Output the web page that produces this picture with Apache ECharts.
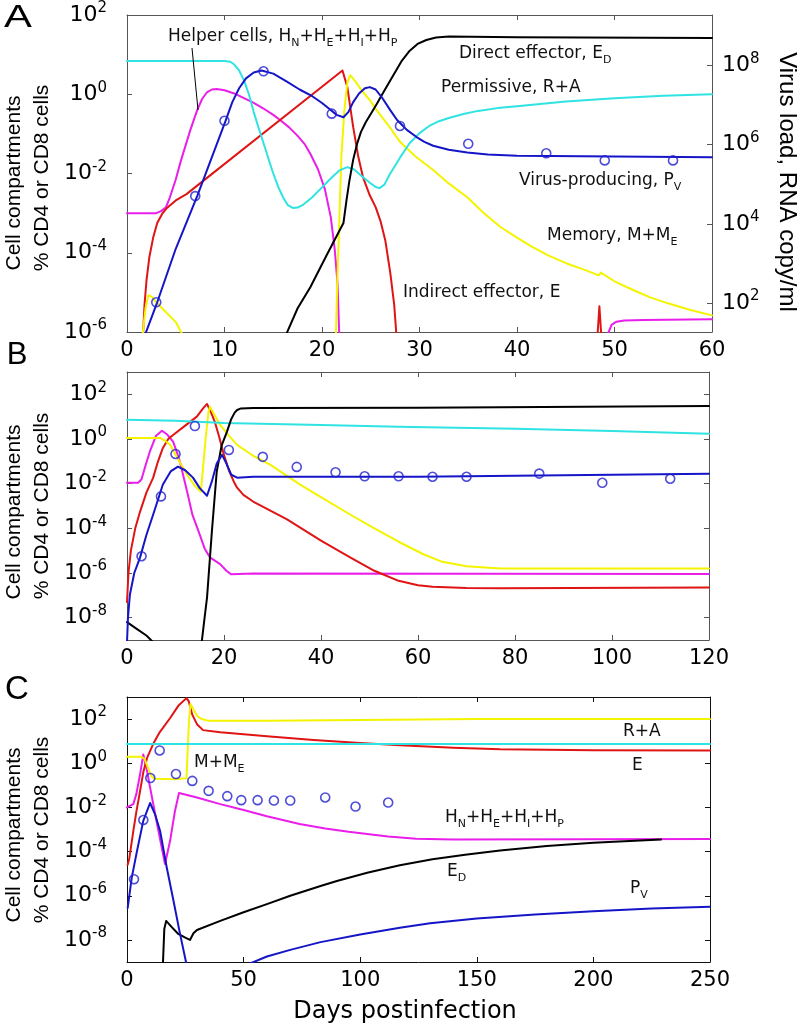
<!DOCTYPE html>
<html><head><meta charset="utf-8">
<script src="https://cdn.jsdelivr.net/npm/echarts@6/dist/echarts.min.js"></script>
<style>html,body{margin:0;padding:0;background:#fff}#chart{width:800px;height:1026px}</style>
</head><body><div id="chart"></div>
<script>
// ---- values are log10 exponents ("% CD4 or CD8 cells" and "RNA copy/ml") ----
// tick labels (exponents)
const yTicksA = [-6, -4, -2, 0, 2];
const yTicksBC = [-8, -6, -4, -2, 0, 2];
const virusTicksA = [2, 4, 6, 8];

// measured virus load (log10 RNA copy/ml)
const virusDays  = [3, 7, 10, 14, 21, 28, 35, 43, 49, 56, 63, 70, 85, 98, 112];
const virusLog10 = [2.02, 4.7, 6.6, 7.85, 6.78, 6.47, 6.02, 5.78, 5.6, 5.6, 5.58, 5.58, 5.72, 5.31, 5.49];

// Panel A  [day, log10 %cells]
const A_permissive = [[0,0.84],[10,0.84],[10.6,0.82],[11,0.75],[11.5,0.6],[12,0.35],[12.5,0.0],[13,-0.45],[13.5,-0.85],[14,-1.23],[14.5,-1.62],[15,-2.0],[15.5,-2.33],[16,-2.6],[16.5,-2.8],[17,-2.87],[17.5,-2.86],[18,-2.8],[19,-2.6],[20,-2.35],[21,-2.1],[21.8,-1.92],[22.6,-1.84],[23.3,-1.9],[24,-2.05],[25,-2.25],[25.5,-2.34],[25.9,-2.37],[26.4,-2.28],[27,-2.0],[28,-1.6],[29,-1.23],[30,-0.98],[31,-0.8],[32,-0.68],[33,-0.6],[34.5,-0.5],[36,-0.42],[38,-0.35],[40,-0.3],[45,-0.18],[50,-0.1],[55,-0.04],[60,0.0]];
const A_helper1 = [[0,-3],[3,-3],[3.5,-2.95],[4,-2.85],[4.4,-2.6],[5,-2.15],[5.5,-1.7],[6.5,-0.9],[7.2,-0.4],[7.7,-0.12],[8.2,0.05],[8.7,0.12],[9.2,0.13],[10,0.1],[11,0.02],[12,-0.1],[13,-0.22],[14,-0.36],[15,-0.52],[15.7,-0.65],[16.6,-0.83],[17.5,-1.05],[18.2,-1.25],[18.8,-1.5],[19.6,-1.9],[20.3,-2.4],[20.9,-3.1],[21.3,-3.9],[21.6,-4.8],[21.8,-6.3]];
const A_helper2 = [[49.2,-6.3],[49.4,-6.0],[49.7,-5.82],[50.2,-5.74],[51,-5.71],[53,-5.7],[60,-5.68]];
const A_indirect1 = [[1.6,-6.3],[1.8,-5.3],[2,-4.7],[2.3,-4.1],[2.7,-3.6],[3.1,-3.25],[3.6,-3.02],[4.1,-2.87],[5,-2.68],[6.1,-2.52],[22.1,0.6],[22.6,0.18],[23.2,-0.83],[23.7,-1.55],[24.2,-2.09],[24.9,-2.55],[25.5,-2.85],[26,-3.2],[26.5,-3.7],[27,-4.5],[27.4,-5.3],[27.7,-6.3]];
const A_indirect2 = [[48.2,-6.3],[48.45,-5.35],[48.7,-6.3]];
const A_memory1 = [[1.5,-6.3],[1.9,-5.4],[2.2,-5.07],[2.6,-5.12],[3,-5.25],[4,-5.5],[5,-5.75],[6.2,-6.3]];
const A_memory2 = [[21.4,-6.3],[21.6,-4.5],[21.8,-3.0],[22.0,-1.5],[22.3,-0.4],[22.6,0.3],[22.9,0.48],[23.5,0.3],[24,0.12],[25,-0.18],[25.6,-0.4],[27,-0.85],[28,-1.2],[29.5,-1.55],[31.4,-1.91],[33,-2.25],[34.9,-2.6],[36.5,-2.98],[38.3,-3.35],[40,-3.62],[41.6,-3.86],[43.3,-4.08],[45.1,-4.27],[46.8,-4.42],[48.4,-4.57],[48.6,-4.5],[50,-4.72],[51.9,-4.94],[53.6,-5.12],[55.4,-5.27],[57.7,-5.44],[60,-5.58]];
const A_direct = [[15.9,-6.3],[17.5,-5.4],[18.8,-4.87],[20.5,-4.05],[22.2,-3.25],[22.5,-2.7],[22.8,-2.2],[23.2,-1.65],[23.6,-1.25],[24,-0.95],[24.5,-0.7],[25,-0.5],[25.6,-0.25],[26.3,0.05],[27,0.35],[27.6,0.6],[28.2,0.85],[29,1.1],[29.8,1.27],[30.7,1.37],[31.7,1.43],[33,1.46],[40,1.44],[60,1.42]];
const A_producing = [[1.5,-6.3],[3.1,-5.25],[5,-3.9],[7.2,-2.57],[10.1,-0.68],[10.8,-0.2],[11.5,0.15],[12.2,0.4],[13,0.55],[13.8,0.6],[15,0.52],[16.4,0.32],[17.7,0.12],[19,-0.05],[20,-0.22],[20.8,-0.38],[21.5,-0.52],[22.2,-0.58],[22.7,-0.45],[23.2,-0.2],[23.8,0.02],[24.4,0.15],[24.9,0.18],[25.5,0.12],[26.2,-0.1],[27,-0.4],[27.7,-0.65],[28.7,-0.9],[29.7,-1.08],[30.5,-1.2],[31.4,-1.3],[33,-1.4],[34.9,-1.47],[37,-1.52],[40,-1.55],[60,-1.59]];

// Panel B
const B_permissive = [[0,0.86],[10,0.82],[20,0.72],[40,0.63],[56,0.55],[80,0.46],[100,0.36],[120,0.23]];
const B_direct1 = [[0,-8.2],[2,-8.5],[4,-8.8],[5.4,-9.1]];
const B_direct2 = [[15.4,-9.1],[16,-8],[16.5,-7.1],[17.5,-4.14],[18.5,-1.46],[19.5,-0.3],[20.6,0.32],[21.5,0.9],[22.2,1.18],[22.7,1.3],[23.5,1.37],[26,1.39],[60,1.4],[120,1.48]];
const B_indirect = [[0,-7.3],[0.3,-6],[0.8,-5],[1.7,-4],[2.7,-3.25],[4,-2.4],[5.4,-1.73],[6.4,-1.0],[7.4,-0.4],[8.5,0.0],[9.5,0.18],[12,0.6],[14.4,1.0],[15.6,1.35],[16.5,1.57],[17.3,1.2],[18.1,0.77],[19,0.1],[19.8,-0.57],[21,-1.4],[22,-1.9],[22.7,-2.18],[24,-2.5],[26,-2.8],[33,-3.6],[40,-4.55],[46,-5.3],[51,-5.9],[56,-6.35],[60,-6.55],[63,-6.62],[70,-6.67],[77,-6.68],[120,-6.65]];
const B_memory = [[0,0.05],[6.8,0.05],[8,-0.1],[8.9,-0.26],[10.5,-0.9],[12.4,-1.6],[14,-2.1],[15.2,-2.36],[15.6,-1.5],[16.2,0],[16.8,1.2],[17.1,1.44],[18,1.1],[19.2,0.63],[21,0.15],[22.7,-0.26],[26,-0.75],[29.5,-1.15],[35.7,-2.04],[40,-2.6],[46,-3.38],[51,-4.0],[56,-4.6],[61,-5.15],[65,-5.5],[70,-5.7],[77,-5.8],[120,-5.8]];
const B_helper = [[0,-1.96],[2.3,-1.96],[3,-1.8],[3.8,-1.2],[4.7,-0.57],[6,0.15],[7.2,0.37],[8.3,0.2],[9.5,-0.12],[10.3,-0.6],[11,-1.1],[12.4,-2.36],[13.5,-3.4],[15,-4.28],[16,-4.9],[17.1,-5.3],[19.2,-5.6],[20.5,-5.9],[21.5,-6.06],[26,-6.02],[120,-6.05]];
const B_producing = [[0,-9.1],[0.2,-8],[0.6,-6.96],[1.5,-6],[2.7,-5.3],[4,-4.3],[5.4,-3.38],[7.4,-2.04],[9,-1.45],[10.5,-1.24],[12,-1.4],[13.6,-1.73],[15,-2.2],[16.5,-2.54],[17.5,-1.9],[18.5,-1.1],[19.6,-0.71],[20.5,-1.1],[21.5,-1.6],[22.7,-1.73],[26,-1.69],[60,-1.69],[120,-1.56]];

// Panel C
const C_permissive = [[0,0.87],[250,0.87]];
const C_memory = [[0,0.3],[6,0.3],[7.5,0.2],[9,-0.2],[10.5,-0.6],[12,-0.7],[20,-0.72],[25.5,-0.68],[26,0.5],[26.5,1.8],[27.2,2.68],[28.5,2.45],[30,2.15],[32,2.0],[35,1.92],[60,1.92],[100,1.96],[150,2.0],[250,2.0]];
const C_indirect = [[0.3,-4.6],[1,-4.3],[2.7,-3.07],[4,-2.2],[5.6,-1.26],[7,-0.4],[8.6,0.24],[11.2,0.87],[14,1.4],[18.5,2.05],[22,2.6],[25.5,2.95],[26.5,2.8],[28,2.2],[30,1.77],[32.6,1.5],[40,1.4],[60,1.22],[80,1.05],[100,0.92],[117,0.82],[140,0.7],[160,0.63],[200,0.59],[250,0.58]];
const C_helper = [[0,-2.0],[2.7,-1.85],[4,-1.4],[5.6,-0.5],[7,0.4],[8.5,-0.3],[9.9,-1.1],[12.9,-2.75],[16.3,-4.56],[18.5,-3.5],[20.5,-2.2],[22.3,-1.35],[30,-1.55],[40,-1.85],[50,-2.12],[60,-2.4],[74,-2.75],[85,-2.95],[95,-3.1],[103,-3.2],[112,-3.32],[124,-3.42],[140,-3.45],[250,-3.43]];
const C_producing1 = [[0.3,-6.55],[2,-5.2],[4.3,-3.97],[7,-2.6],[9.9,-1.8],[12,-2.3],[14.2,-3.07],[17,-4.7],[19.7,-6.1],[22.5,-7.6],[25.5,-9.1]];
const C_producing2 = [[52,-9.1],[60,-8.75],[70,-8.45],[83,-8.1],[100,-7.75],[117,-7.45],[130,-7.25],[150,-7.03],[175,-6.85],[200,-6.7],[225,-6.58],[250,-6.5]];
const C_direct = [[15.4,-9.1],[16,-7.5],[16.8,-7.14],[19,-7.4],[22,-7.73],[25,-7.9],[27,-8.0],[28.5,-7.7],[30,-7.55],[40,-7.14],[50,-6.75],[60,-6.38],[70,-6.0],[83,-5.56],[90,-5.33],[103,-4.96],[117,-4.62],[131,-4.35],[145,-4.14],[160,-3.95],[180,-3.75],[200,-3.6],[229,-3.45]];

// ---- styling / layout ----
const VIRUS_OFFSET = 7.27; // right-axis decades relative to left axis
const COL = {permissive:'#2fe3e3', helper:'#ea1eea', indirect:'#e01414', memory:'#f4f400', direct:'#000000', producing:'#1515c8', virus:'#2020d0'};
const FONT = 'DejaVu Sans';
const NAMEFONT = 'Liberation Sans';

const supRich = {
  b:{fontSize:22, fontFamily:FONT, lineHeight:28, verticalAlign:'middle', color:'#000'},
  s:{fontSize:15, fontFamily:FONT, lineHeight:15, verticalAlign:'top', color:'#000'}
};
const expFmt = v => '{b|10}{s|' + Math.round(v) + '}';

const grids = [
  {left:127, top:15, width:585, height:317},
  {left:127, top:372, width:582, height:268},
  {left:127, top:697, width:583, height:265}
];
const frameColor = ['#555', '#555', '#111'];
const xMax = [60, 120, 250];
const xInt = [10, 20, 50];
const yMin = [-6, -9, -9];
const yMax = [2, 3, 3];

const xAxis = [], yAxis = [];
for (let g = 0; g < 3; g++) {
  const line = {show:true, onZero:false, lineStyle:{color:frameColor[g], width:1}};
  const tick = {show:true, inside:true, length:5, lineStyle:{color:frameColor[g]}};
  xAxis.push({type:'value', gridIndex:g, position:'bottom', min:0, max:xMax[g], interval:xInt[g],
    axisLine:line, axisTick:tick, splitLine:{show:false},
    axisLabel:{fontSize:21, fontFamily:FONT, color:'#000', margin:8}});
  xAxis.push({type:'value', gridIndex:g, position:'top', min:0, max:xMax[g], interval:xInt[g],
    axisLine:line, axisTick:tick, splitLine:{show:false}, axisLabel:{show:false}});
}
const leftTicks = [yTicksA, yTicksBC, yTicksBC];
// A: y0 left, y1 right(virus, labelled). B: y2 left, y3 right mirror, y4 virus hidden. C: y5, y6, y7.
for (let g = 0; g < 3; g++) {
  const line = {show:true, onZero:false, lineStyle:{color:frameColor[g], width:1}};
  const tick = {show:true, inside:true, length:5, lineStyle:{color:frameColor[g]}, customValues:leftTicks[g]};
  yAxis.push({type:'value', gridIndex:g, position:'left', min:yMin[g], max:yMax[g],
    axisLine:line, axisTick:tick, splitLine:{show:false},
    axisLabel:{customValues:leftTicks[g], formatter:expFmt, rich:supRich, margin:20, align:'right'}});
  if (g === 0) {
    yAxis.push({type:'value', gridIndex:g, position:'right', min:yMin[g]+VIRUS_OFFSET, max:yMax[g]+VIRUS_OFFSET,
      axisLine:line, axisTick:Object.assign({}, tick, {customValues:virusTicksA}), splitLine:{show:false},
      axisLabel:{customValues:virusTicksA, formatter:expFmt, rich:supRich, margin:10, align:'left'}});
  } else {
    yAxis.push({type:'value', gridIndex:g, position:'right', min:yMin[g], max:yMax[g],
      axisLine:line, axisTick:tick, splitLine:{show:false}, axisLabel:{show:false}});
    yAxis.push({type:'value', gridIndex:g, show:false, min:yMin[g]+VIRUS_OFFSET, max:yMax[g]+VIRUS_OFFSET});
  }
}
const leftY = [0, 2, 5];
const virusY = [1, 4, 7];

function L(data, color, g) {
  return {type:'line', data:data, xAxisIndex:2*g, yAxisIndex:leftY[g], symbol:'none', showSymbol:false,
    smooth:false, clip:true, lineStyle:{color:color, width:2, join:'round', cap:'round'}, itemStyle:{color:color},
    animation:false, silent:true};
}
const virusPts = virusDays.map((d, i) => [d, virusLog10[i]]);
function V(g) {
  return {type:'scatter', data:virusPts, xAxisIndex:2*g, yAxisIndex:virusY[g], symbol:'circle', symbolSize:9,
    clip:true, itemStyle:{color:'rgba(0,0,0,0)', borderColor:COL.virus, borderWidth:1.6}, z:5, animation:false, silent:true};
}

const series = [
  L(A_helper1, COL.helper, 0), L(A_helper2, COL.helper, 0),
  L(A_indirect1, COL.indirect, 0), L(A_indirect2, COL.indirect, 0),
  L(A_memory1, COL.memory, 0), L(A_memory2, COL.memory, 0),
  L(A_permissive, COL.permissive, 0),
  L(A_direct, COL.direct, 0),
  L(A_producing, COL.producing, 0),
  V(0),
  L(B_helper, COL.helper, 1), L(B_indirect, COL.indirect, 1), L(B_memory, COL.memory, 1),
  L(B_permissive, COL.permissive, 1), L(B_direct1, COL.direct, 1), L(B_direct2, COL.direct, 1),
  L(B_producing, COL.producing, 1), V(1),
  L(C_helper, COL.helper, 2), L(C_indirect, COL.indirect, 2), L(C_memory, COL.memory, 2),
  L(C_permissive, COL.permissive, 2), L(C_direct, COL.direct, 2),
  L(C_producing1, COL.producing, 2), L(C_producing2, COL.producing, 2), V(2)
];

// annotations
function richSub(str) { return '{m|' + str.replace(/_(\w)/g, '}{s|$1}{m|') + '}'; }
const annRich = {
  m:{fontSize:17, fontFamily:FONT, lineHeight:24, verticalAlign:'middle', fill:'#111'},
  s:{fontSize:11, fontFamily:FONT, lineHeight:12, verticalAlign:'bottom', fill:'#111'}
};
function T(x, y, str) {
  return {type:'text', x:x, y:y, z:100, silent:true,
    style:{text:richSub(str), rich:annRich, align:'left', verticalAlign:'middle'}};
}
function N(x, y, str, size, rot) {
  return {type:'text', x:x, y:y, rotation:rot, z:100, silent:true,
    style:{text:str, font:size + 'px "' + NAMEFONT + '"', fill:'#000', align:'center', verticalAlign:'middle'}};
}
const graphic = [
  T(168, 37, 'Helper cells, H_N+H_E+H_I+H_P'),
  {type:'line', shape:{x1:192, y1:48, x2:198, y2:110}, style:{stroke:'#000', lineWidth:1}, z:100, silent:true},
  T(459, 54, 'Direct effector, E_D'),
  T(441, 88, 'Permissive, R+A'),
  T(519, 181, 'Virus-producing, P_V'),
  T(547, 236, 'Memory, M+M_E'),
  T(403, 293, 'Indirect effector, E'),
  T(194, 763, 'M+M_E'),
  T(623, 732, 'R+A'),
  T(632, 766, 'E'),
  T(445, 818, 'H_N+H_E+H_I+H_P'),
  T(447, 872, 'E_D'),
  T(630, 889, 'P_V'),
  // axis names
  N(14, 183, 'Cell compartments', 21, Math.PI/2),
  N(42, 178, '% CD4 or CD8 cells', 21, Math.PI/2),
  N(14, 512, 'Cell compartments', 21, Math.PI/2),
  N(42, 506, '% CD4 or CD8 cells', 21, Math.PI/2),
  N(14, 835, 'Cell compartments', 21, Math.PI/2),
  N(42, 830, '% CD4 or CD8 cells', 21, Math.PI/2),
  N(787, 182, 'Virus load, RNA copy/ml', 24, -Math.PI/2),
  {type:'text', x:405, y:1012, z:100, silent:true,
    style:{text:'Days postinfection', font:'24px "' + FONT + '"', fill:'#000', align:'center', verticalAlign:'middle'}},
  // panel letters
  {type:'text', x:18, y:18, scaleX:1.35, z:100, silent:true, style:{text:'A', font:'31px "' + NAMEFONT + '"', fill:'#000', align:'center', verticalAlign:'middle'}},
  {type:'text', x:17, y:355, z:100, silent:true, style:{text:'B', font:'31px "' + NAMEFONT + '"', fill:'#000', align:'center', verticalAlign:'middle'}},
  {type:'text', x:17, y:690, z:100, silent:true, style:{text:'C', font:'33px "' + NAMEFONT + '"', fill:'#000', align:'center', verticalAlign:'middle'}}
];

const chart = echarts.init(document.getElementById('chart'), null, {renderer:'canvas'});
chart.setOption({backgroundColor:'#fff', animation:false, grid:grids, xAxis:xAxis, yAxis:yAxis, series:series, graphic:graphic});
</script></body></html>
